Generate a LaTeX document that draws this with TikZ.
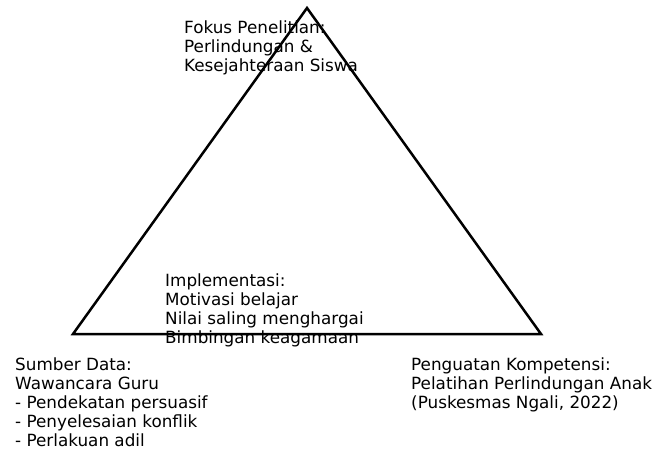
\documentclass[tikz,border=0pt]{standalone}
\usepackage{fontspec}
\setmainfont{DejaVu Sans}
\usetikzlibrary{positioning}

\begin{document}
\begin{tikzpicture}[x=1pt,y=-1pt,
    label text/.style={anchor=north west,inner sep=0pt,align=left,
      font=\fontsize{16.8}{19}\selectfont}]
    \useasboundingbox (0,0) rectangle (654,452);
    \coordinate (Top)   at (307,8);
    \coordinate (Left)  at (73,334);
    \coordinate (Right) at (541,334);

    \draw[line width=2.5pt,line join=miter] (Top) -- (Left) -- (Right) -- cycle; % the triangle

    \node[label text] (fokus) at (184,21)
      {Fokus Penelitian:\\Perlindungan \&\\Kesejahteraan Siswa};
    \node[label text] (impl) at (165,274)
      {Implementasi:\\Motivasi belajar\\Nilai saling menghargai\\Bimbingan keagamaan};
    \node[label text] (sumber) at (15,358)
      {Sumber Data:\\Wawancara Guru\\- Pendekatan persuasif\\- Penyelesaian konflik\\- Perlakuan adil};
    \node[label text] (penguatan) at (411,358)
      {Penguatan Kompetensi:\\Pelatihan Perlindungan Anak\\(Puskesmas Ngali, 2022)};
  \end{tikzpicture}
\end{document}
